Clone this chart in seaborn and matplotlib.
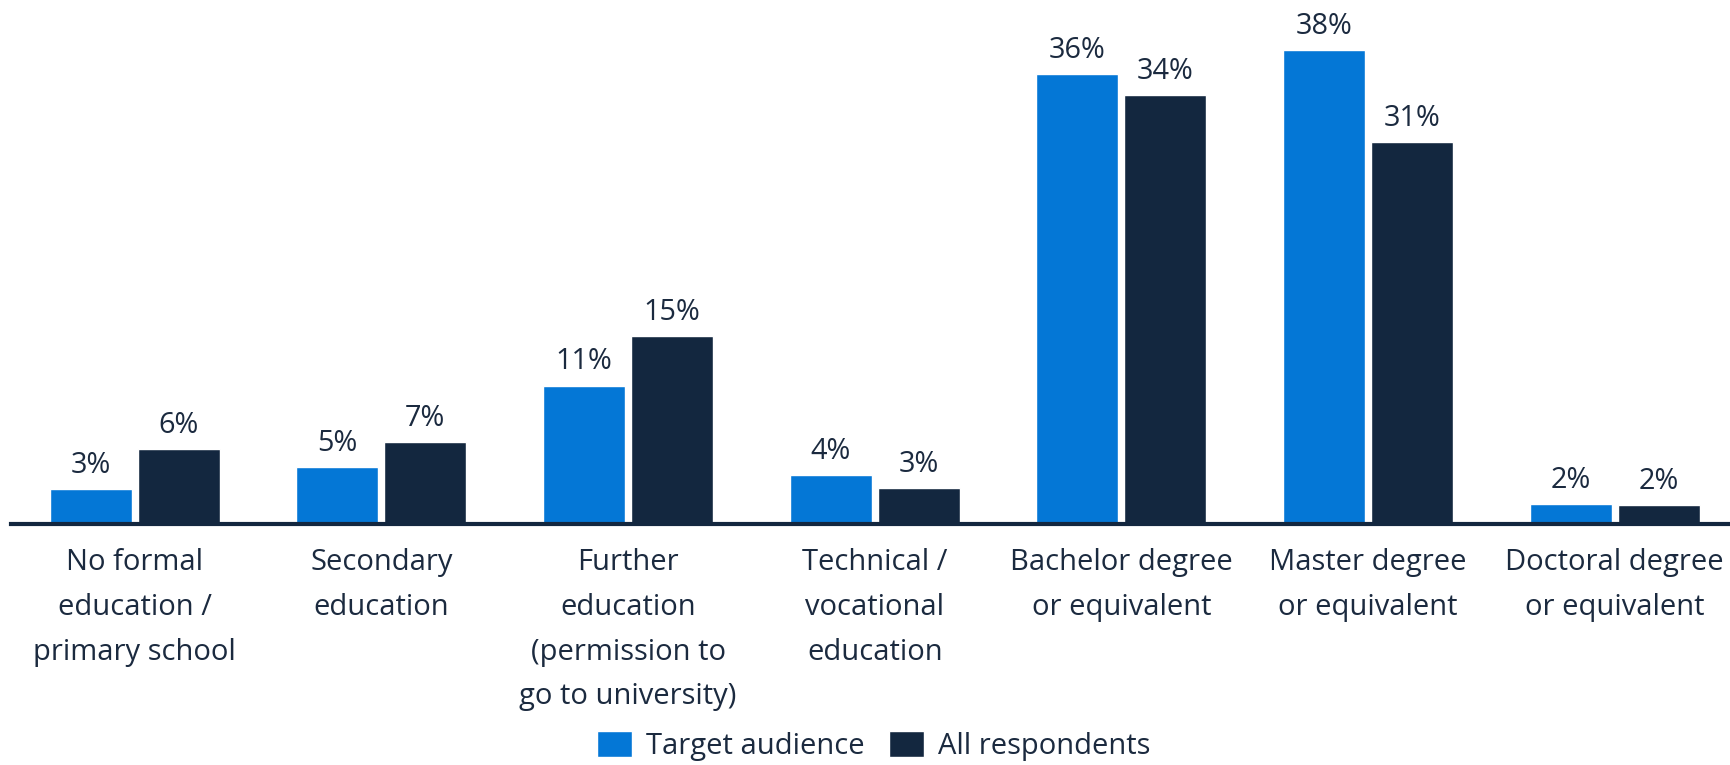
import matplotlib
matplotlib.use("Agg")
import matplotlib.pyplot as plt
import seaborn as sns
import pandas as pd

# Survey shares by highest education level (%)
categories = [
    "No formal\neducation /\nprimary school",
    "Secondary\neducation",
    "Further\neducation\n(permission to\ngo to university)",
    "Technical /\nvocational\neducation",
    "Bachelor degree\nor equivalent",
    "Master degree\nor equivalent",
    "Doctoral degree\nor equivalent",
]
target_audience = [2.8, 4.6, 11.1, 3.9, 36.1, 38.0, 1.6]
all_respondents = [6.0, 6.6, 15.1, 2.9, 34.4, 30.6, 1.5]
series_names = ["Target audience", "All respondents"]

BLUE = "#0477d6"
NAVY = "#13273f"
TEXT = "#1b2a3f"

df = pd.DataFrame({
    "category": categories * 2,
    "share": target_audience + all_respondents,
    "group": [series_names[0]] * len(categories) + [series_names[1]] * len(categories),
})

sns.set_theme(style="white")
plt.rcParams["font.family"] = ["Open Sans", "DejaVu Sans"]

W, H, DPI = 1731, 765, 100
fig = plt.figure(figsize=(W / DPI, H / DPI), dpi=DPI)
ax = fig.add_axes([11 / W, (H - 524) / H, 1 - 11 / W, 524 / H])

sns.barplot(
    data=df, x="category", y="share", hue="group",
    palette=[BLUE, NAVY], width=0.713, gap=0.067,
    saturation=1, ax=ax, legend=True,
)

for container in ax.containers:
    ax.bar_label(
        container, labels=[f"{v:.0f}%" for v in container.datavalues],
        padding=6.5, fontsize=20.8, color=TEXT,
    )

ax.set_xlim(-0.502, 6.472)
ax.set_ylim(0, 42.0)
ax.set_xlabel("")
ax.set_ylabel("")
ax.set_yticks([])
for side in ["left", "right", "top"]:
    ax.spines[side].set_visible(False)
ax.spines["bottom"].set_color(NAVY)
ax.spines["bottom"].set_linewidth(3)
ax.tick_params(axis="x", length=0, pad=17, labelsize=21, colors=TEXT)
for lbl in ax.get_xticklabels():
    lbl.set_linespacing(1.725)
    lbl.set_verticalalignment("top")

ax.get_legend().remove()
handles, labels = ax.get_legend_handles_labels()
fig.legend(
    handles, labels, loc="center", bbox_to_anchor=(873.5 / W, 19 / H),
    ncol=2, frameon=False, fontsize=21, labelcolor=TEXT,
    handlelength=1.21, handleheight=0.98, handletextpad=0.46, columnspacing=0.85,
)

fig.savefig("out.png", dpi=DPI)
